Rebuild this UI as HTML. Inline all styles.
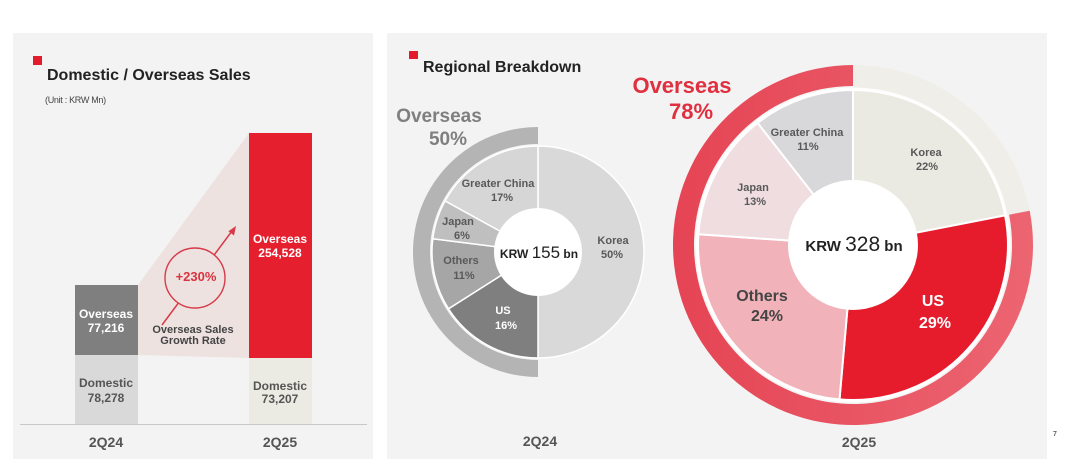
<!DOCTYPE html>
<html>
<head>
<meta charset="utf-8">
<style>
  html,body{margin:0;padding:0;background:#ffffff;}
  svg{display:block;}
  text{font-family:"Liberation Sans", Arial, sans-serif;}
</style>
</head>
<body>
<svg width="1080" height="468" viewBox="0 0 1080 468" xmlns="http://www.w3.org/2000/svg">
  <defs>
    <linearGradient id="ringR" x1="673" y1="0" x2="1033" y2="0" gradientUnits="userSpaceOnUse">
      <stop offset="0" stop-color="#e54454"/>
      <stop offset="1" stop-color="#ec6571"/>
    </linearGradient>
  </defs>
  <rect x="0" y="0" width="1080" height="468" fill="#ffffff"/>

  <!-- Panels -->
  <rect x="13" y="33" width="360" height="426" fill="#f3f3f3"/>
  <rect x="387" y="33" width="660" height="426" fill="#f3f3f3"/>

  <!-- ===== Left panel ===== -->
  <rect x="33" y="56" width="9" height="9" fill="#e31b2c"/>
  <text x="47" y="80" font-size="16" font-weight="bold" fill="#222">Domestic / Overseas Sales</text>
  <text x="45" y="103" font-size="9" fill="#444" letter-spacing="-0.3">(Unit : KRW Mn)</text>

  <!-- trapezoid shading -->
  <polygon points="138,285 249,133 249,358 138,355" fill="#ede2e0"/>

  <!-- arrow line -->
  <line x1="162" y1="325" x2="232" y2="231" stroke="#d83a48" stroke-width="1.5"/>
  <polygon points="236,226 234,235.5 228.4,231.3" fill="#d83a48"/>
  <circle cx="195" cy="278" r="30" fill="#ede2e0" stroke="#d83a48" stroke-width="1.4"/>
  <text x="196" y="281" font-size="13" font-weight="bold" fill="#d9333f" text-anchor="middle">+230%</text>
  <text x="193" y="333" font-size="11" font-weight="bold" fill="#444" text-anchor="middle">Overseas Sales</text>
  <text x="193" y="344" font-size="11" font-weight="bold" fill="#444" text-anchor="middle">Growth Rate</text>

  <!-- bars -->
  <rect x="75" y="285" width="63" height="70" fill="#7f7f7f"/>
  <rect x="75" y="355" width="63" height="69" fill="#d9d9d9"/>
  <rect x="249" y="133" width="63" height="225" fill="#e61f2e"/>
  <rect x="249" y="358" width="63" height="66" fill="#ecebe3"/>
  <line x1="20" y1="424.5" x2="367" y2="424.5" stroke="#c8c8c8" stroke-width="1"/>

  <text x="106" y="318" font-size="12" font-weight="bold" fill="#ffffff" text-anchor="middle">Overseas</text>
  <text x="106" y="332" font-size="12" font-weight="bold" fill="#ffffff" text-anchor="middle">77,216</text>
  <text x="106" y="387" font-size="12" font-weight="bold" fill="#555" text-anchor="middle">Domestic</text>
  <text x="106" y="402" font-size="12" font-weight="bold" fill="#555" text-anchor="middle">78,278</text>

  <text x="280" y="243" font-size="12" font-weight="bold" fill="#ffffff" text-anchor="middle">Overseas</text>
  <text x="280" y="257" font-size="12" font-weight="bold" fill="#ffffff" text-anchor="middle">254,528</text>
  <text x="280" y="390" font-size="12" font-weight="bold" fill="#555" text-anchor="middle">Domestic</text>
  <text x="280" y="403" font-size="12" font-weight="bold" fill="#555" text-anchor="middle">73,207</text>

  <text x="106" y="447" font-size="14" font-weight="bold" fill="#555" text-anchor="middle">2Q24</text>
  <text x="280" y="447" font-size="14" font-weight="bold" fill="#555" text-anchor="middle">2Q25</text>

  <!-- ===== Right panel ===== -->
  <rect x="409" y="51" width="9" height="8" fill="#e31b2c"/>
  <text x="423" y="72" font-size="16" font-weight="bold" fill="#222">Regional Breakdown</text>

  <!-- Small donut 2Q24 -->
  <path d="M538 127 A125 125 0 0 0 538 377 L538 360 A108 108 0 0 1 538 144 Z" fill="#b4b4b4"/>
  <g stroke="#ffffff" stroke-width="1.5">
    <path d="M538 252 L538 146 A106 106 0 0 1 538 358 Z" fill="#d9d9d9"/>
    <path d="M538 252 L538 358 A106 106 0 0 1 448.5 308.8 Z" fill="#7f7f7f"/>
    <path d="M538 252 L448.5 308.8 A106 106 0 0 1 432.8 238.7 Z" fill="#a6a6a6"/>
    <path d="M538 252 L432.8 238.7 A106 106 0 0 1 445.1 200.9 Z" fill="#bfbfbf"/>
    <path d="M538 252 L445.1 200.9 A106 106 0 0 1 538 146 Z" fill="#d6d6d6"/>
  </g>
  <circle cx="538" cy="252" r="44" fill="#ffffff"/>

  <text x="498" y="187" font-size="11" font-weight="bold" fill="#595959" text-anchor="middle">Greater China</text>
  <text x="502" y="201" font-size="11" font-weight="bold" fill="#595959" text-anchor="middle">17%</text>
  <text x="458" y="225" font-size="11" font-weight="bold" fill="#595959" text-anchor="middle">Japan</text>
  <text x="462" y="239" font-size="11" font-weight="bold" fill="#595959" text-anchor="middle">6%</text>
  <text x="461" y="264" font-size="11" font-weight="bold" fill="#595959" text-anchor="middle">Others</text>
  <text x="464" y="279" font-size="11" font-weight="bold" fill="#595959" text-anchor="middle">11%</text>
  <text x="503" y="314" font-size="11" font-weight="bold" fill="#ffffff" text-anchor="middle">US</text>
  <text x="506" y="329" font-size="11" font-weight="bold" fill="#ffffff" text-anchor="middle">16%</text>
  <text x="613" y="244" font-size="11" font-weight="bold" fill="#595959" text-anchor="middle">Korea</text>
  <text x="612" y="258" font-size="11" font-weight="bold" fill="#595959" text-anchor="middle">50%</text>

  <text x="539" y="258" text-anchor="middle" fill="#222"><tspan font-size="12" font-weight="bold">KRW </tspan><tspan font-size="17">155</tspan><tspan font-size="12" font-weight="bold"> bn</tspan></text>

  <text x="439" y="122" font-size="19" font-weight="bold" fill="#7f7f7f" text-anchor="middle">Overseas</text>
  <text x="448" y="145" font-size="19" font-weight="bold" fill="#7f7f7f" text-anchor="middle">50%</text>

  <text x="540" y="446" font-size="14" font-weight="bold" fill="#555" text-anchor="middle">2Q24</text>

  <!-- Big donut 2Q25 -->
  <path d="M853 65 A180 180 0 0 1 1029.7 210.7 L853 245 Z" fill="#efeee8"/>
  <path d="M1029.7 210.7 A180 180 0 1 1 853 65 L853 86 A159 159 0 1 0 1009.1 214.7 Z" fill="url(#ringR)"/>
  <circle cx="853" cy="245" r="157.5" fill="#ffffff" opacity="0.85"/>
  <g stroke="#ffffff" stroke-width="2">
    <path d="M853 245 L853 90 A155 155 0 0 1 1005.1 215.4 Z" fill="#ebeae2"/>
    <path d="M853 245 L1005.1 215.4 A155 155 0 0 1 839.5 399.4 Z" fill="#e61c2d"/>
    <path d="M853 245 L839.5 399.4 A155 155 0 0 1 698.4 234.2 Z" fill="#f2b2b9"/>
    <path d="M853 245 L698.4 234.2 A155 155 0 0 1 757.6 122.9 Z" fill="#efdde0"/>
    <path d="M853 245 L757.6 122.9 A155 155 0 0 1 853 90 Z" fill="#d8d8da"/>
  </g>
  <circle cx="853" cy="245" r="65" fill="#ffffff"/>

  <text x="807" y="136" font-size="11" font-weight="bold" fill="#595959" text-anchor="middle">Greater China</text>
  <text x="808" y="150" font-size="11" font-weight="bold" fill="#595959" text-anchor="middle">11%</text>
  <text x="926" y="156" font-size="11" font-weight="bold" fill="#595959" text-anchor="middle">Korea</text>
  <text x="927" y="170" font-size="11" font-weight="bold" fill="#595959" text-anchor="middle">22%</text>
  <text x="753" y="191" font-size="11" font-weight="bold" fill="#595959" text-anchor="middle">Japan</text>
  <text x="755" y="205" font-size="11" font-weight="bold" fill="#595959" text-anchor="middle">13%</text>
  <text x="762" y="301" font-size="16" font-weight="bold" fill="#444" text-anchor="middle">Others</text>
  <text x="767" y="321" font-size="16" font-weight="bold" fill="#444" text-anchor="middle">24%</text>
  <text x="933" y="306" font-size="16" font-weight="bold" fill="#ffffff" text-anchor="middle">US</text>
  <text x="935" y="328" font-size="16" font-weight="bold" fill="#ffffff" text-anchor="middle">29%</text>

  <text x="854" y="251" text-anchor="middle" fill="#222"><tspan font-size="15" font-weight="bold">KRW </tspan><tspan font-size="21">328</tspan><tspan font-size="15" font-weight="bold"> bn</tspan></text>

  <text x="682" y="93" font-size="22" font-weight="bold" fill="#e0303f" text-anchor="middle">Overseas</text>
  <text x="691" y="119" font-size="22" font-weight="bold" fill="#e0303f" text-anchor="middle">78%</text>

  <text x="859" y="447" font-size="14" font-weight="bold" fill="#555" text-anchor="middle">2Q25</text>

  <text x="1055" y="436" font-size="7" font-weight="bold" fill="#666" text-anchor="middle">7</text>
</svg>
</body>
</html>
